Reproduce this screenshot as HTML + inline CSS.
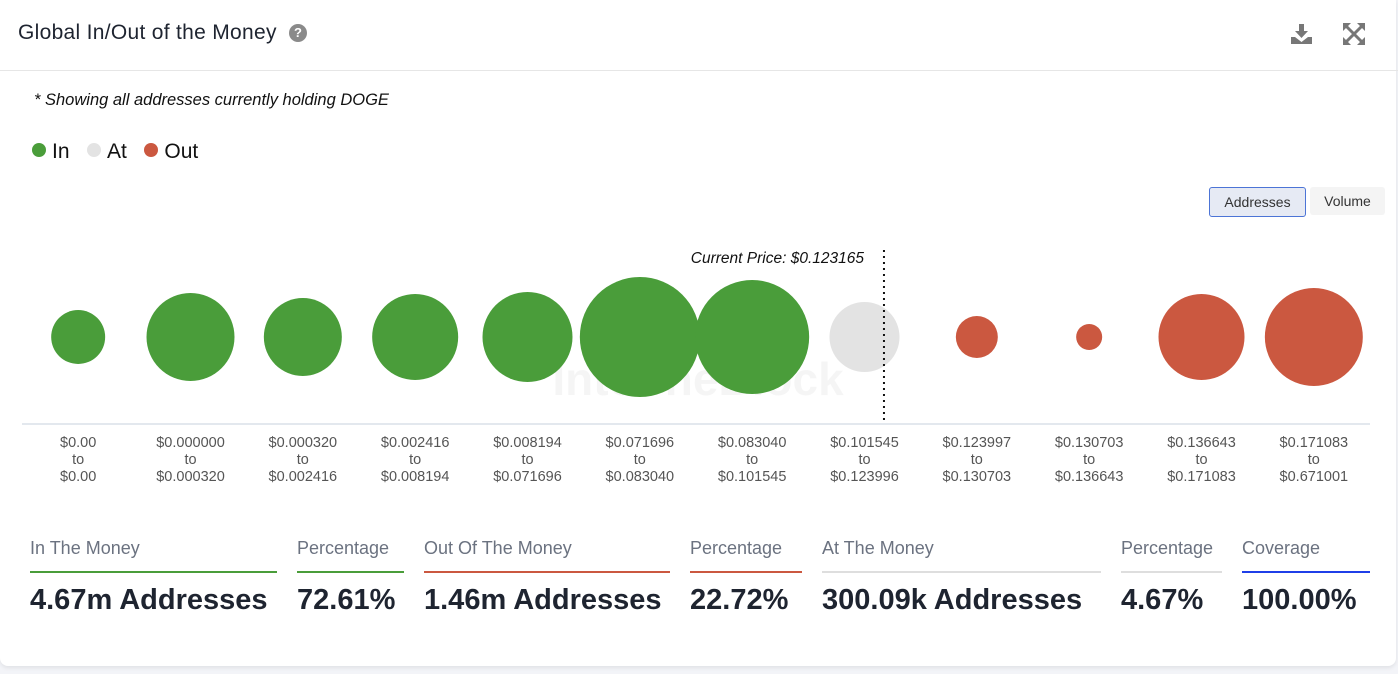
<!DOCTYPE html>
<html><head><meta charset="utf-8"><style>
body{margin:0;width:1398px;height:674px;background:#f3f4f8;font-family:"Liberation Sans",sans-serif;overflow:hidden}
.card{position:absolute;left:0;top:0;width:1396px;height:666px;background:#fff;border-radius:0 0 8px 8px;box-shadow:0 2px 4px rgba(0,0,0,.08)}
.title{position:absolute;left:18px;top:21px;font-size:21px;letter-spacing:0.3px;color:#1e2430}
.help{position:absolute;left:289px;top:24px;width:18px;height:18px;border-radius:50%;background:#8a8a8a;color:#fff;font-size:13px;font-weight:bold;text-align:center;line-height:18px}
.hr{position:absolute;left:0;top:70px;width:1398px;height:1px;background:#e6e6e6}
.note{position:absolute;left:34px;top:91px;font-size:16.5px;font-style:italic;color:#111}
.legend{position:absolute;left:32px;top:140px;font-size:21px;color:#111}
.legend span.d{display:inline-block;width:14px;height:14px;border-radius:50%;vertical-align:1px;margin-right:6px}
.btn{position:absolute;top:187px;height:28px;font-size:14px;color:#333;line-height:28px;text-align:center;border-radius:3px}
.lab{position:absolute;font-size:18px;color:#6b7280}
.bar{position:absolute;height:2px;top:571px}
.val{position:absolute;top:584px;font-size:29px;color:#1e2430;font-weight:bold}
</style></head><body>
<div class="card">
<div class="title">Global In/Out of the Money</div>
<div class="help">?</div>
<svg style="position:absolute;left:1290px;top:22px" width="24" height="24"><path d="M9 2h5v7h4l-6.5 7L5 9h4z M1 15h4l6.5 5 6.5-5h4v7H1z" fill="#777"/></svg>
<svg style="position:absolute;left:1342px;top:22px" width="24" height="24"><g stroke="#777" stroke-width="3" fill="none"><path d="M4 4l16 16M20 4L4 20"/></g><g fill="#777"><path d="M1 1h8L1 9zM23 1h-8l8 8zM1 23h8L1 15zM23 23h-8l8-8z"/></g></svg>
<div class="hr"></div>
<div class="note">* Showing all addresses currently holding DOGE</div>
<div class="legend">
<span><span class="d" style="background:#4a9d3a"></span>In</span>&nbsp;&nbsp;
<span><span class="d" style="background:#e3e3e3"></span>At</span>&nbsp;&nbsp;
<span><span class="d" style="background:#cb5840"></span>Out</span></div>
<div class="btn" style="left:1209px;width:95px;background:#e6eaf4;border:1px solid #4c74d6">Addresses</div>
<div class="btn" style="left:1310px;width:75px;background:#f4f4f4">Volume</div>
<svg id="chart" style="position:absolute;left:0;top:0" width="1398" height="500"></svg>
<div class="lab" style="left:30px;top:538px">In The Money</div>
<div class="bar" style="left:30px;width:247px;background:#4a9d3a"></div>
<div class="val" style="left:30px">4.67m Addresses</div>
<div class="lab" style="left:297px;top:538px">Percentage</div>
<div class="bar" style="left:297px;width:107px;background:#4a9d3a"></div>
<div class="val" style="left:297px">72.61%</div>
<div class="lab" style="left:424px;top:538px">Out Of The Money</div>
<div class="bar" style="left:424px;width:246px;background:#cb5840"></div>
<div class="val" style="left:424px">1.46m Addresses</div>
<div class="lab" style="left:690px;top:538px">Percentage</div>
<div class="bar" style="left:690px;width:112px;background:#cb5840"></div>
<div class="val" style="left:690px">22.72%</div>
<div class="lab" style="left:822px;top:538px">At The Money</div>
<div class="bar" style="left:822px;width:279px;background:#dedede"></div>
<div class="val" style="left:822px">300.09k Addresses</div>
<div class="lab" style="left:1121px;top:538px">Percentage</div>
<div class="bar" style="left:1121px;width:101px;background:#dedede"></div>
<div class="val" style="left:1121px">4.67%</div>
<div class="lab" style="left:1242px;top:538px">Coverage</div>
<div class="bar" style="left:1242px;width:128px;background:#1f3fe8"></div>
<div class="val" style="left:1242px">100.00%</div>
</div>
<script>
const rangeLow=["$0.00","$0.000000","$0.000320","$0.002416","$0.008194","$0.071696","$0.083040","$0.101545","$0.123997","$0.130703","$0.136643","$0.171083"];
const rangeHigh=["$0.00","$0.000320","$0.002416","$0.008194","$0.071696","$0.083040","$0.101545","$0.123996","$0.130703","$0.136643","$0.171083","$0.671001"];
const addresses=[228,606,476,579,634,1127,1017,384,138,53,579,751];
const status=["in","in","in","in","in","in","in","at","out","out","out","out"];
const currentPrice=0.123165;
const colors={in:"#4a9d3a",at:"#e3e3e3",out:"#cb5840"};
const svg=document.getElementById('chart');const NS="http://www.w3.org/2000/svg";
const x0=22,x1=1370,cy=337,axisY=424;
const step=(x1-x0)/rangeLow.length;
const xPos=i=>x0+step*(i+0.5);
const maxV=Math.max(...addresses);
const rScale=v=>60*Math.sqrt(v/maxV);
function mk(t,a){const e=document.createElementNS(NS,t);for(const k in a)e.setAttribute(k,a[k]);svg.appendChild(e);return e;}
const wm=mk('text',{x:698,y:395,'font-size':46,'font-weight':'bold',fill:'#000','fill-opacity':0.04,'text-anchor':'middle','font-family':'Liberation Sans'});wm.textContent='IntoTheBlock';


const ax=mk('line',{x1:x0,x2:x1,y1:axisY,y2:axisY,stroke:'#c7d0dd'});


addresses.forEach((v,i)=>{
 const c=mk('circle',{cx:xPos(i),cy:cy,r:rScale(v),fill:colors[status[i]]});
 
 
 [rangeLow[i],'to',rangeHigh[i]].forEach((s,j)=>{
  const t=mk('text',{x:xPos(i),y:447+j*17,'font-size':14.5,fill:'#555','text-anchor':'middle','font-family':'Liberation Sans'});t.textContent=s;
  
  
 });
});
// current price line: drawn slightly right of the "at" bin centre
const lo=parseFloat(rangeLow[7].slice(1)),hi=parseFloat(rangeHigh[7].slice(1));
const px=xPos(7)+step*0.18*(currentPrice-lo)/(hi-lo);
const pl=mk('line',{x1:px,x2:px,y1:250,y2:axisY,stroke:'#111','stroke-width':2,'stroke-dasharray':'2,4'});


const pt=mk('text',{x:px-20,y:263,'font-size':15.5,'font-style':'italic',fill:'#111','text-anchor':'end','font-family':'Liberation Sans'});pt.textContent='Current Price: $'+currentPrice;


</script>
</body></html>
